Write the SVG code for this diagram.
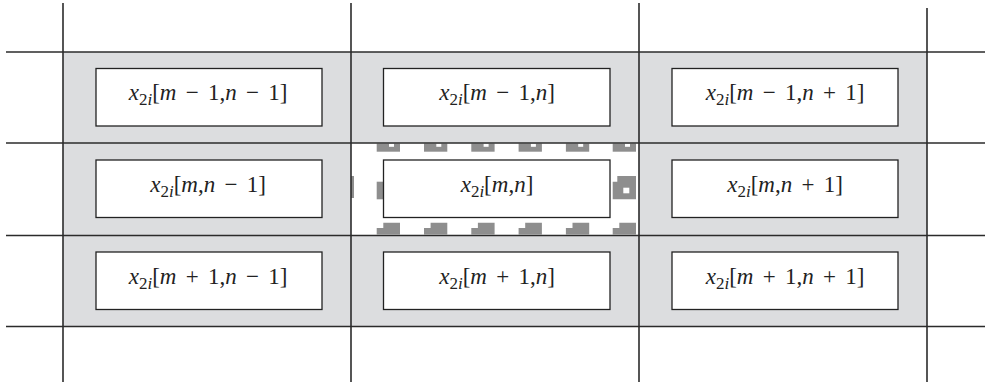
<svg xmlns="http://www.w3.org/2000/svg" width="985" height="387" viewBox="0 0 985 387">
<style>
.grid{stroke:#2b2b2b;stroke-width:1.6;fill:none}
.box{fill:#fff;stroke:#222;stroke-width:1.3}
.lbl{font-family:"Liberation Serif","Times New Roman",serif;font-size:23px;fill:#222;text-anchor:middle;word-spacing:3.5px}
.i{font-style:italic}
.sub{font-size:17px}
.dash{fill:#8e8e8e}
.hole{fill:#fff}
</style>
<rect x="0" y="0" width="985" height="387" fill="#fff"/>
<rect x="63" y="52" width="864" height="274.5" fill="#dcdddf"/>
<rect x="351" y="143" width="288" height="92.5" fill="#fff"/>
<g id="dashes">
<rect class="dash" x="376.7" y="143.5" width="23.3" height="8.2"/>
<rect class="dash" x="424" y="143.5" width="23.3" height="8.2"/>
<rect class="dash" x="471.3" y="143.5" width="23.3" height="8.2"/>
<rect class="dash" x="518.6" y="143.5" width="23.3" height="8.2"/>
<rect class="dash" x="565.9" y="143.5" width="23.3" height="8.2"/>
<rect class="dash" x="612.7" y="143.5" width="23.3" height="8.2"/>
<rect class="hole" x="389" y="143.5" width="5" height="3.3"/>
<rect class="hole" x="436.3" y="143.5" width="5" height="3.3"/>
<rect class="hole" x="483.6" y="143.5" width="5" height="3.3"/>
<rect class="hole" x="530.9" y="143.5" width="5" height="3.3"/>
<rect class="hole" x="578.2" y="143.5" width="5" height="3.3"/>
<rect class="hole" x="625" y="143.5" width="5" height="3.3"/>
<polygon class="dash" points="376.7,234.5 376.7,228 383.3,228 383.3,222.7 400,222.7 400,234.5"/>
<polygon class="dash" points="424,234.5 424,228 430.6,228 430.6,222.7 447.3,222.7 447.3,234.5"/>
<polygon class="dash" points="471.3,234.5 471.3,228 477.9,228 477.9,222.7 494.6,222.7 494.6,234.5"/>
<polygon class="dash" points="518.6,234.5 518.6,228 525.2,228 525.2,222.7 541.9,222.7 541.9,234.5"/>
<polygon class="dash" points="565.9,234.5 565.9,228 572.5,228 572.5,222.7 589.2,222.7 589.2,234.5"/>
<polygon class="dash" points="612.7,234.5 612.7,228 619.3,228 619.3,222.7 636,222.7 636,234.5"/>
<rect class="dash" x="376.7" y="181.7" width="6.6" height="17.6"/>
<rect class="dash" x="351" y="176" width="3" height="22"/>
<polygon class="dash" points="617.3,176 636,176 636,199.3 612.7,199.3 612.7,181.7 617.3,181.7"/>
<rect class="hole" x="623.3" y="187.7" width="6" height="5.6"/>
</g>
<g id="connectors">
<line class="grid" x1="63" y1="3" x2="63" y2="382"/>
<line class="grid" x1="351" y1="3" x2="351" y2="382"/>
<line class="grid" x1="639" y1="3" x2="639" y2="382"/>
<line class="grid" x1="927" y1="8" x2="927" y2="382"/>
<line class="grid" x1="6" y1="52" x2="985" y2="52"/>
<line class="grid" x1="6" y1="143" x2="985" y2="143"/>
<line class="grid" x1="6" y1="235.5" x2="985" y2="235.5"/>
<line class="grid" x1="6" y1="326.5" x2="985" y2="326.5"/>
</g>
<g id="n11"><rect class="box" x="96" y="68.5" width="226" height="57.5"/><text class="lbl" x="208" y="99.5"><tspan class="i">x</tspan><tspan class="sub" dy="5">2<tspan class="i">i</tspan></tspan><tspan dy="-5">[<tspan class="i">m</tspan> − 1,<tspan class="i">n</tspan> − 1]</tspan></text></g>
<g id="n12"><rect class="box" x="383.5" y="68.5" width="226.5" height="57.5"/><text class="lbl" x="497" y="99.5"><tspan class="i">x</tspan><tspan class="sub" dy="5">2<tspan class="i">i</tspan></tspan><tspan dy="-5">[<tspan class="i">m</tspan> − 1,<tspan class="i">n</tspan>]</tspan></text></g>
<g id="n13"><rect class="box" x="672" y="68.5" width="226" height="57.5"/><text class="lbl" x="785" y="99.5"><tspan class="i">x</tspan><tspan class="sub" dy="5">2<tspan class="i">i</tspan></tspan><tspan dy="-5">[<tspan class="i">m</tspan> − 1,<tspan class="i">n</tspan> + 1]</tspan></text></g>
<g id="n21"><rect class="box" x="96" y="160" width="226" height="57.5"/><text class="lbl" x="208" y="191.5"><tspan class="i">x</tspan><tspan class="sub" dy="5">2<tspan class="i">i</tspan></tspan><tspan dy="-5">[<tspan class="i">m</tspan>,<tspan class="i">n</tspan> − 1]</tspan></text></g>
<g id="n22"><rect class="box" x="383.5" y="160" width="226.5" height="57.5"/><text class="lbl" x="497" y="191.5"><tspan class="i">x</tspan><tspan class="sub" dy="5">2<tspan class="i">i</tspan></tspan><tspan dy="-5">[<tspan class="i">m</tspan>,<tspan class="i">n</tspan>]</tspan></text></g>
<g id="n23"><rect class="box" x="672" y="160" width="226" height="57.5"/><text class="lbl" x="785" y="191.5"><tspan class="i">x</tspan><tspan class="sub" dy="5">2<tspan class="i">i</tspan></tspan><tspan dy="-5">[<tspan class="i">m</tspan>,<tspan class="i">n</tspan> + 1]</tspan></text></g>
<g id="n31"><rect class="box" x="96" y="252" width="226" height="57.5"/><text class="lbl" x="208" y="283.5"><tspan class="i">x</tspan><tspan class="sub" dy="5">2<tspan class="i">i</tspan></tspan><tspan dy="-5">[<tspan class="i">m</tspan> + 1,<tspan class="i">n</tspan> − 1]</tspan></text></g>
<g id="n32"><rect class="box" x="383.5" y="252" width="226.5" height="57.5"/><text class="lbl" x="497" y="283.5"><tspan class="i">x</tspan><tspan class="sub" dy="5">2<tspan class="i">i</tspan></tspan><tspan dy="-5">[<tspan class="i">m</tspan> + 1,<tspan class="i">n</tspan>]</tspan></text></g>
<g id="n33"><rect class="box" x="672" y="252" width="226" height="57.5"/><text class="lbl" x="785" y="283.5"><tspan class="i">x</tspan><tspan class="sub" dy="5">2<tspan class="i">i</tspan></tspan><tspan dy="-5">[<tspan class="i">m</tspan> + 1,<tspan class="i">n</tspan> + 1]</tspan></text></g>
</svg>
